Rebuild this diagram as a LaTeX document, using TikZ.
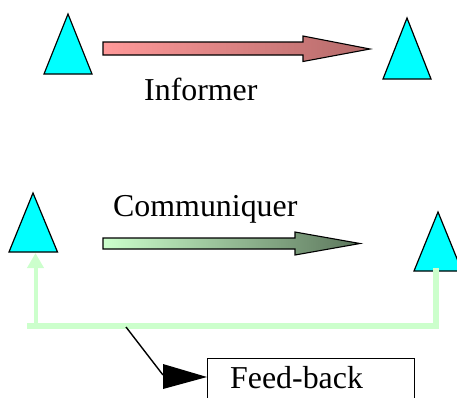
\documentclass[tikz,border=0pt]{standalone}
\usepackage{fontspec}
\setmainfont{Liberation Serif}
\usetikzlibrary{arrows.meta}
\definecolor{pinkL}{RGB}{255,153,153}
\definecolor{pinkR}{RGB}{180,106,106}
\definecolor{grnL}{RGB}{204,255,204}
\definecolor{grnR}{RGB}{92,118,92}
\definecolor{fbgreen}{RGB}{204,255,204}
\definecolor{aqua}{RGB}{0,255,255}
\begin{document}
\begin{tikzpicture}[x=1bp,y=-1bp,
  tri/.style={draw=black,line width=1.2bp,fill=aqua,line join=miter},
  blockarrow/.style={draw=black,line width=1.1bp,line join=miter},
  lbl/.style={inner sep=0,anchor=base west,font=\fontsize{32}{36}\selectfont},
  fbline/.style={draw=fbgreen,line width=6bp},
  box/.style={draw=black,line width=1bp,fill=white,inner sep=0,anchor=north west,minimum width=207bp,minimum height=60bp}]
\useasboundingbox (0,0) rectangle (457,397);
\clip (0,0) rectangle (457,397);
% triangles (top)
\draw[tri] (68,14) -- (92,74) -- (44,74) -- cycle;
\coordinate (T1) at (68,74);
\draw[tri] (407,18) -- (431,79) -- (383,79) -- cycle;
\coordinate (T2) at (407,79);
% top block arrow
\draw[blockarrow,left color=pinkL,right color=pinkR]
  (103,42) -- (303,42) -- (303,36) -- (370,49) -- (303,61.5) -- (303,55) -- (103,55) -- cycle;
\node[lbl] (inf) at (144,100) {Informer};
% triangles (bottom)
\draw[tri] (33,193) -- (57.5,252) -- (9,252) -- cycle;
\coordinate (B1) at (35.5,253);
\draw[tri] (438,212) -- (462,271) -- (414,271) -- cycle;
\coordinate (B2) at (436,271);
% bottom block arrow
\draw[blockarrow,left color=grnL,right color=grnR]
  (103,238) -- (295,238) -- (295,232) -- (360,243.5) -- (295,255) -- (295,249) -- (103,249) -- cycle;
\node[lbl] (com) at (113,216) {Communiquer};
% feedback loop
\coordinate (C1) at (436,326);
\coordinate (C2) at (30,326);
\coordinate (C3) at (35.5,326);
\draw[fbline,line cap=rect] (B2) -- (C1) -- (C2);
\draw[draw=fbgreen,line width=4bp,-{Triangle[length=15bp,width=16bp]}] (C3) -- (B1);
% feed-back box
\node[box] (FB) at (207,358) {};
\node[lbl] (fbt) at (230,388) {Feed-back};
% black pointer
\coordinate (F) at (126,327);
\coordinate (H) at (163,375);
\draw[line width=1.4bp] (F) -- (H);
\fill[black] (163,364) -- (FB.west |- 0,377) -- (163,389) -- cycle;
\end{tikzpicture}
\end{document}
